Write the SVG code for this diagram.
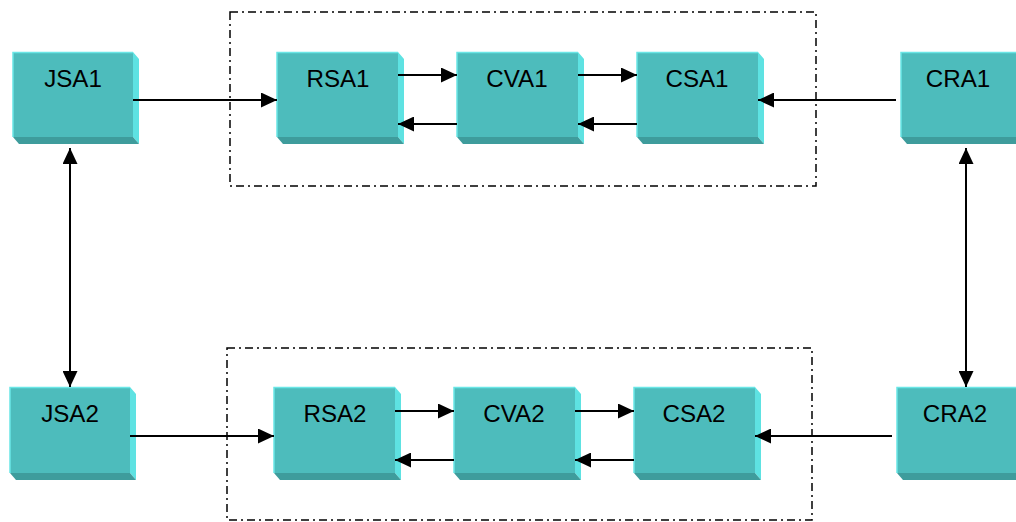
<svg xmlns="http://www.w3.org/2000/svg" width="1016" height="522" viewBox="0 0 1016 522">
  <defs>
    <marker id="arrow" viewBox="0 0 16 15" refX="16" refY="7.5" markerWidth="16" markerHeight="15" markerUnits="userSpaceOnUse" orient="auto-start-reverse">
      <path d="M0,0 L16,7.5 L0,15 Z" fill="#000"/>
    </marker>
  </defs>
  <style>
    .face { fill: #4dbcbc; }
    .side { fill: #5ee2e2; }
    .bottom { fill: #3e9c9c; }
    .hl { stroke: #6ae6e6; stroke-width: 1.5; fill: none; }
    .label { font-family: "Liberation Sans", Arial, sans-serif; font-size: 23px; fill: #000; text-anchor: middle; }
    .link { stroke: #000; stroke-width: 2; fill: none; }
    .group { stroke: #000; stroke-width: 1.5; fill: none; stroke-dasharray: 8 4 2 4; }
  </style>

  <!-- groups of nodes bounded by dash-dot frames -->
  <g id="frames">
    <rect class="group" x="230" y="12" width="586" height="174"/>
    <rect class="group" x="227" y="348" width="585" height="172"/>
  </g>

  <!-- 3D block: face ~121x85, extruded 6 right / 7 down; labels are slightly widened type -->
  <g id="JSA1">
    <polygon class="side" points="133,52 139,59 139,144 133,137"/>
    <polygon class="bottom" points="13,137 133,137 139,144 19,144"/>
    <rect class="face" x="13" y="52" width="120" height="85"/>
    <path class="hl" d="M13,137 V52.5 H133"/>
    <text class="label" transform="translate(73,87) scale(1.05,1)">JSA1</text>
  </g>
  <g id="RSA1">
    <polygon class="side" points="398,52 404,59 404,144 398,137"/>
    <polygon class="bottom" points="277,137 398,137 404,144 283,144"/>
    <rect class="face" x="277" y="52" width="121" height="85"/>
    <path class="hl" d="M277,137 V52.5 H398"/>
    <text class="label" transform="translate(338,87) scale(1.05,1)">RSA1</text>
  </g>
  <g id="CVA1">
    <polygon class="side" points="578,52 584,59 584,144 578,137"/>
    <polygon class="bottom" points="457,137 578,137 584,144 463,144"/>
    <rect class="face" x="457" y="52" width="121" height="85"/>
    <path class="hl" d="M457,137 V52.5 H578"/>
    <text class="label" transform="translate(517,87) scale(1.05,1)">CVA1</text>
  </g>
  <g id="CSA1">
    <polygon class="side" points="758,52 764,59 764,144 758,137"/>
    <polygon class="bottom" points="637,137 758,137 764,144 643,144"/>
    <rect class="face" x="637" y="52" width="121" height="85"/>
    <path class="hl" d="M637,137 V52.5 H758"/>
    <text class="label" transform="translate(697,87) scale(1.05,1)">CSA1</text>
  </g>
  <g id="CRA1">
    <polygon class="side" points="1022,52 1028,59 1028,144 1022,137"/>
    <polygon class="bottom" points="901,137 1022,137 1028,144 907,144"/>
    <rect class="face" x="901" y="52" width="121" height="85"/>
    <path class="hl" d="M901,137 V52.5 H1022"/>
    <text class="label" transform="translate(958,87) scale(1.05,1)">CRA1</text>
  </g>

  <g id="JSA2">
    <polygon class="side" points="130,387 136,394 136,480 130,473"/>
    <polygon class="bottom" points="10,473 130,473 136,480 16,480"/>
    <rect class="face" x="10" y="387" width="120" height="86"/>
    <path class="hl" d="M10,473 V387.5 H130"/>
    <text class="label" transform="translate(70,422) scale(1.05,1)">JSA2</text>
  </g>
  <g id="RSA2">
    <polygon class="side" points="395,387 401,394 401,480 395,473"/>
    <polygon class="bottom" points="274,473 395,473 401,480 280,480"/>
    <rect class="face" x="274" y="387" width="121" height="86"/>
    <path class="hl" d="M274,473 V387.5 H395"/>
    <text class="label" transform="translate(335,422) scale(1.05,1)">RSA2</text>
  </g>
  <g id="CVA2">
    <polygon class="side" points="575,387 581,394 581,480 575,473"/>
    <polygon class="bottom" points="454,473 575,473 581,480 460,480"/>
    <rect class="face" x="454" y="387" width="121" height="86"/>
    <path class="hl" d="M454,473 V387.5 H575"/>
    <text class="label" transform="translate(514,422) scale(1.05,1)">CVA2</text>
  </g>
  <g id="CSA2">
    <polygon class="side" points="755,387 761,394 761,480 755,473"/>
    <polygon class="bottom" points="634,473 755,473 761,480 640,480"/>
    <rect class="face" x="634" y="387" width="121" height="86"/>
    <path class="hl" d="M634,473 V387.5 H755"/>
    <text class="label" transform="translate(694,422) scale(1.05,1)">CSA2</text>
  </g>
  <g id="CRA2">
    <polygon class="side" points="1018,387 1024,394 1024,480 1018,473"/>
    <polygon class="bottom" points="897,473 1018,473 1024,480 903,480"/>
    <rect class="face" x="897" y="387" width="121" height="86"/>
    <path class="hl" d="M897,473 V387.5 H1018"/>
    <text class="label" transform="translate(955,422) scale(1.05,1)">CRA2</text>
  </g>

  <g id="connectors">
    <!-- upper chain -->
    <line class="link" x1="133" y1="100" x2="277" y2="100" marker-end="url(#arrow)"/>
    <line class="link" x1="398" y1="75" x2="457" y2="75" marker-end="url(#arrow)"/>
    <line class="link" x1="457" y1="124" x2="398" y2="124" marker-end="url(#arrow)"/>
    <line class="link" x1="578" y1="75" x2="637" y2="75" marker-end="url(#arrow)"/>
    <line class="link" x1="637" y1="124" x2="578" y2="124" marker-end="url(#arrow)"/>
    <line class="link" x1="896" y1="100" x2="758" y2="100" marker-end="url(#arrow)"/>
    <!-- lower chain -->
    <line class="link" x1="130" y1="436" x2="274" y2="436" marker-end="url(#arrow)"/>
    <line class="link" x1="395" y1="411" x2="454" y2="411" marker-end="url(#arrow)"/>
    <line class="link" x1="454" y1="460" x2="395" y2="460" marker-end="url(#arrow)"/>
    <line class="link" x1="575" y1="411" x2="634" y2="411" marker-end="url(#arrow)"/>
    <line class="link" x1="634" y1="460" x2="575" y2="460" marker-end="url(#arrow)"/>
    <line class="link" x1="892" y1="436" x2="755" y2="436" marker-end="url(#arrow)"/>
    <!-- vertical two-way links -->
    <line class="link" x1="70" y1="148" x2="70" y2="387" marker-start="url(#arrow)" marker-end="url(#arrow)"/>
    <line class="link" x1="966" y1="148" x2="966" y2="387" marker-start="url(#arrow)" marker-end="url(#arrow)"/>
  </g>
</svg>
